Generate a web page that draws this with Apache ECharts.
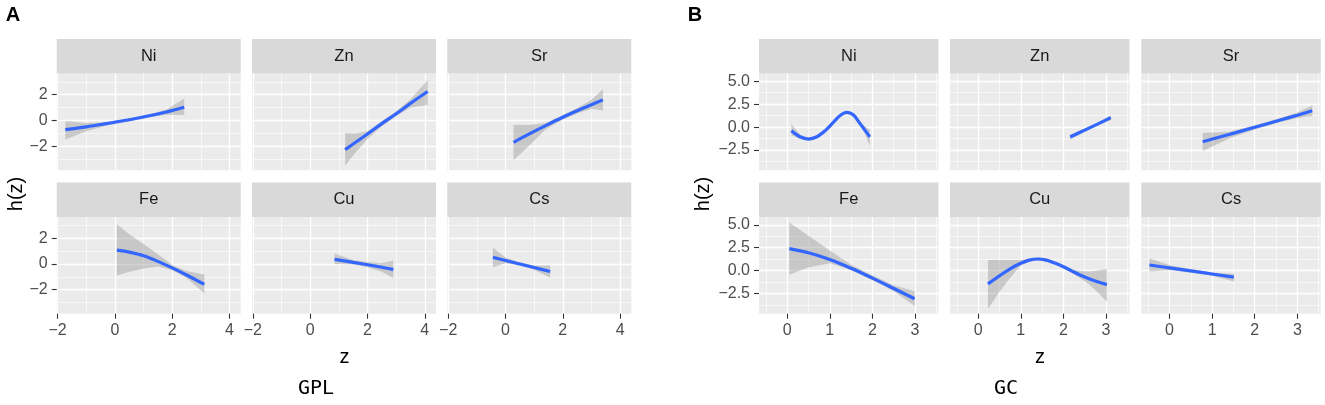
<!DOCTYPE html>
<html>
<head>
<meta charset="utf-8">
<script src="https://cdn.jsdelivr.net/npm/echarts@6/dist/echarts.min.js"></script>
<style>
  html, body { margin: 0; padding: 0; background: #fff; }
  #chart { width: 1325px; height: 405px; }
</style>
</head>
<body>
<div id="chart"></div>
<script>
// facet order, left to right, top to bottom
var elements = ['Ni', 'Zn', 'Sr', 'Fe', 'Cu', 'Cs'];

// tick values
var gplXTicks = [-2, 0, 2, 4];
var gplXMinor = [-1, 1, 3];
var gplYTicks = [-2, 0, 2];
var gplYMinor = [-3, -1, 1, 3];
var gcXTicks = [0, 1, 2, 3];
var gcXMinor = [-0.5, 0.5, 1.5, 2.5, 3.5];
var gcYTicks = [-2.5, 0, 2.5, 5];
var gcYMinor = [-3.75, -1.25, 1.25, 3.75];

// panel A (GPL): fitted h(z) and band
var gplNi = { z: [-1.73, -1.0, -0.3, 0.5, 1.2, 1.8, 2.42],
              h: [-0.72, -0.50, -0.25, 0.05, 0.36, 0.66, 1.03],
              lo: [-1.48, -0.85, -0.42, -0.08, 0.25, 0.45, 0.42],
              hi: [-0.05, -0.2, -0.12, 0.14, 0.48, 0.85, 1.7] };
var gplZn = { z: [1.22, 1.6, 2.0, 2.5, 3.0, 3.5, 4.1],
              h: [-2.27, -1.68, -1.05, -0.25, 0.52, 1.33, 2.25],
              lo: [-3.5, -2.45, -1.45, -0.45, 0.32, 1.0, 1.2],
              hi: [-1.0, -1.02, -0.85, -0.05, 0.72, 1.65, 3.15] };
var gplSr = { z: [0.28, 0.8, 1.4, 2.0, 2.6, 3.0, 3.4],
              h: [-1.70, -1.08, -0.40, 0.25, 0.85, 1.22, 1.60],
              lo: [-3.1, -2.0, -0.7, 0.08, 0.62, 0.9, 0.78],
              hi: [-0.33, -0.35, -0.2, 0.42, 1.08, 1.6, 2.43] };
var gplFe = { z: [0.07, 0.5, 1.0, 1.5, 2.0, 2.5, 3.12],
              h: [1.08, 0.92, 0.64, 0.2, -0.31, -0.86, -1.59],
              lo: [-0.9, -0.6, -0.35, -0.2, -0.5, -1.1, -2.3],
              hi: [3.08, 2.3, 1.55, 0.75, -0.08, -0.55, -0.82] };
var gplCu = { z: [0.85, 1.5, 2.0, 2.5, 2.9],
              h: [0.36, 0.12, -0.06, -0.26, -0.44],
              lo: [0.0, -0.05, -0.25, -0.6, -1.1],
              hi: [0.82, 0.3, 0.15, 0.05, 0.26] };
var gplCs = { z: [-0.44, 0.0, 0.5, 1.0, 1.56],
              h: [0.51, 0.27, 0.0, -0.28, -0.59],
              lo: [-0.26, 0.05, -0.12, -0.45, -1.08],
              hi: [1.28, 0.5, 0.12, -0.12, -0.13] };

// panel B (GC)
var gcNi = { z: [0.1, 0.3, 0.5, 0.7, 0.9, 1.1, 1.25, 1.4, 1.55, 1.7, 1.82, 1.94],
             h: [-0.4, -1.05, -1.3, -1.05, -0.35, 0.6, 1.3, 1.6, 1.35, 0.45, -0.3, -1.07],
             lo: [-0.9, -1.3, -1.45, -1.2, -0.5, 0.45, 1.15, 1.45, 1.2, 0.25, -0.7, -2.1],
             hi: [0.3, -0.8, -1.15, -0.9, -0.2, 0.75, 1.45, 1.75, 1.5, 0.65, 0.1, -0.3] };
var gcZn = { z: [2.16, 2.5, 2.8, 3.11],
             h: [-1.07, -0.33, 0.33, 1.03],
             lo: [-1.35, -0.5, 0.15, 0.75],
             hi: [-0.8, -0.15, 0.5, 1.3] };
var gcSr = { z: [0.78, 1.4, 2.0, 2.6, 3.0, 3.35],
             h: [-1.6, -0.8, -0.02, 0.77, 1.3, 1.78],
             lo: [-2.6, -1.25, -0.25, 0.55, 1.0, 1.2],
             hi: [-0.64, -0.5, 0.2, 1.0, 1.6, 2.39] };
var gcFe = { z: [0.05, 0.5, 1.0, 1.5, 2.0, 2.5, 2.99],
             h: [2.4, 1.95, 1.22, 0.26, -0.82, -1.95, -3.07],
             lo: [-0.46, 0.35, 0.8, 0.05, -1.05, -2.25, -3.86],
             hi: [5.25, 3.8, 2.2, 0.65, -0.5, -1.6, -2.25] };
var gcCu = { z: [0.23, 0.5, 0.75, 1.0, 1.2, 1.4, 1.6, 1.8, 2.0, 2.2, 2.4, 2.6, 2.8, 3.02],
             h: [-1.45, -0.58, 0.2, 0.8, 1.15, 1.27, 1.15, 0.82, 0.42, -0.05, -0.5, -0.88, -1.22, -1.53],
             lo: [-4.2, -2.3, -0.8, 0.55, 0.98, 1.1, 0.98, 0.65, 0.25, -0.25, -0.85, -1.5, -2.35, -3.4],
             hi: [1.15, 1.15, 1.15, 1.15, 1.3, 1.42, 1.32, 1.0, 0.6, 0.15, -0.05, -0.1, 0.0, 0.18] };
var gcCs = { z: [-0.47, 0.0, 0.5, 1.0, 1.51],
             h: [0.61, 0.3, -0.03, -0.37, -0.71],
             lo: [-0.1, 0.05, -0.2, -0.55, -1.18],
             hi: [1.33, 0.6, 0.15, -0.2, -0.35] };

var gplPanels = [gplNi, gplZn, gplSr, gplFe, gplCu, gplCs];
var gcPanels = [gcNi, gcZn, gcSr, gcFe, gcCu, gcCs];

// layout (px)
var rowTop = [73.5, 217], panelH = 96.7, stripH = 34.5;
var colsA = [56.7, 252, 447.3], widthA = 184;
var colsB = [759, 950, 1141.3], widthB = 179.5;

var fontSans = 'Liberation Sans, Arial, sans-serif';
var minus = function (s) { return String(s).replace('-', '\u2212'); };

var grids = [], xAxes = [], yAxes = [], series = [], graphics = [];

function addPanel(p, name, left, top, width, xr, yr, xt, xm, yt, ym, showX, showY, yFmt) {
  var gi = grids.length;
  grids.push({ left: left, top: top, width: width, height: panelH,
    show: true, backgroundColor: '#EBEBEB', borderWidth: 0 });
  xAxes.push({ gridIndex: gi, type: 'value', min: xr[0], max: xr[1], position: 'bottom',
    axisLine: { show: false, onZero: false },
    axisTick: { show: showX, customValues: xt, length: 5, lineStyle: { color: '#333333', width: 1.1 } },
    axisLabel: { show: showX, customValues: xt, margin: 9, color: '#4D4D4D', fontSize: 16,
      fontFamily: fontSans, formatter: minus },
    splitLine: { show: true, lineStyle: { color: '#FFFFFF', width: 1.3 } } });
  xAxes.push({ gridIndex: gi, type: 'value', min: xr[0], max: xr[1], position: 'top',
    axisLine: { show: false, onZero: false }, axisTick: { show: false, customValues: xm },
    axisLabel: { show: false },
    splitLine: { show: true, lineStyle: { color: '#FFFFFF', width: 0.6 } } });
  yAxes.push({ gridIndex: gi, type: 'value', min: yr[0], max: yr[1], position: 'left',
    axisLine: { show: false, onZero: false },
    axisTick: { show: showY, customValues: yt, length: 5, lineStyle: { color: '#333333', width: 1.1 } },
    axisLabel: { show: showY, customValues: yt, margin: 9, color: '#4D4D4D', fontSize: 16,
      fontFamily: fontSans, formatter: yFmt },
    splitLine: { show: true, lineStyle: { color: '#FFFFFF', width: 1.3 } } });
  yAxes.push({ gridIndex: gi, type: 'value', min: yr[0], max: yr[1], position: 'right',
    axisLine: { show: false, onZero: false }, axisTick: { show: false, customValues: ym },
    axisLabel: { show: false },
    splitLine: { show: true, lineStyle: { color: '#FFFFFF', width: 0.6 } } });

  series.push({
    type: 'custom', xAxisIndex: 2 * gi, yAxisIndex: 2 * gi, silent: true, z: 2,
    data: [[p.z[0], p.h[0]]],
    renderItem: function (params, api) {
      var pts = [];
      for (var i = 0; i < p.z.length; i++) pts.push(api.coord([p.z[i], p.hi[i]]));
      for (var j = p.z.length - 1; j >= 0; j--) pts.push(api.coord([p.z[j], p.lo[j]]));
      return { type: 'polygon', shape: { points: pts }, style: { fill: 'rgba(150,150,150,0.42)' } };
    }
  });
  series.push({
    type: 'line', xAxisIndex: 2 * gi, yAxisIndex: 2 * gi, silent: true, z: 3,
    data: p.z.map(function (z, i) { return [z, p.h[i]]; }),
    showSymbol: false, smooth: 0.35,
    lineStyle: { color: '#3366FF', width: 3.2 }
  });

  // facet strip
  graphics.push({ type: 'rect', shape: { x: left, y: top - stripH, width: width, height: stripH },
    style: { fill: '#D9D9D9' }, silent: true });
  graphics.push({ type: 'text', x: left + width / 2, y: top - stripH / 2, silent: true,
    style: { text: name, align: 'center', verticalAlign: 'middle', fill: '#1A1A1A',
      font: '16.5px ' + fontSans } });
}

for (var k = 0; k < 6; k++) {
  var r = Math.floor(k / 3), c = k % 3;
  addPanel(gplPanels[k], elements[k], colsA[c], rowTop[r], widthA,
    [-2.03, 4.39], [-3.87, 3.65], gplXTicks, gplXMinor, gplYTicks, gplYMinor,
    r === 1, c === 0, minus);
}
for (var m = 0; m < 6; m++) {
  var r2 = Math.floor(m / 3), c2 = m % 3;
  addPanel(gcPanels[m], elements[m], colsB[c2], rowTop[r2], widthB,
    [-0.66, 3.55], [-4.7, 5.85], gcXTicks, gcXMinor, gcYTicks, gcYMinor,
    r2 === 1, c2 === 0, function (v) { return minus(v.toFixed(1)); });
}

function label(text, x, y, font, rot) {
  graphics.push({ type: 'text', x: x, y: y, rotation: rot || 0, silent: true,
    style: { text: text, align: 'center', verticalAlign: 'middle', fill: '#000000', font: font } });
}
label('A', 13, 15, 'bold 20px ' + fontSans);
label('B', 695, 15, 'bold 20px ' + fontSans);
label('h(z)', 16, 194, '20px ' + fontSans, Math.PI / 2);
label('h(z)', 703, 194, '20px ' + fontSans, Math.PI / 2);
label('z', 344.5, 357, '20px ' + fontSans);
label('z', 1040, 357, '20px ' + fontSans);
label('GPL', 316, 389, '20px DejaVu Sans Mono, monospace');
label('GC', 1006, 389, '20px DejaVu Sans Mono, monospace');

var chart = echarts.init(document.getElementById('chart'), null, { renderer: 'canvas' });
chart.setOption({
  animation: false,
  backgroundColor: '#FFFFFF',
  grid: grids,
  xAxis: xAxes,
  yAxis: yAxes,
  series: series,
  graphic: graphics
});
window.onresize = function () { chart.resize(); };
</script>
</body>
</html>
